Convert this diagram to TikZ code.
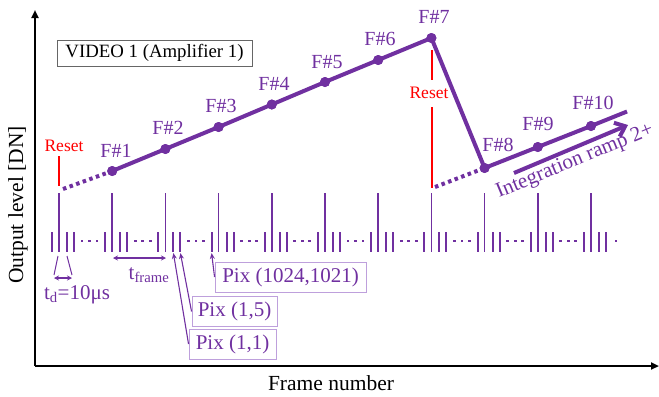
\documentclass[tikz,border=0pt]{standalone}
\usepackage{fontspec}
\setmainfont{Liberation Serif}
\usetikzlibrary{arrows.meta,calc}
\definecolor{vpurple}{RGB}{112,48,160}
\definecolor{lpurple}{RGB}{190,160,220}
\begin{document}
\begin{tikzpicture}[x=1bp,y=-1bp,
  pt/.style={circle,fill=vpurple,inner sep=0pt,minimum size=10bp},
  flabel/.style={text=vpurple,font=\fontsize{20bp}{24bp}\selectfont,inner sep=0pt},
  rlabel/.style={text=red,font=\fontsize{17.5bp}{21bp}\selectfont,inner sep=0pt},
  plabel/.style={text=vpurple,font=\fontsize{21bp}{25bp}\selectfont,inner sep=0pt},
  ramp/.style={vpurple,line width=4bp},
  dotramp/.style={vpurple,line width=4bp,dash pattern=on 3.5bp off 3.5bp},
  tallp/.style={vpurple,line width=1.6bp},
  shortp/.style={vpurple,line width=2bp},
  pixbox/.style={draw=lpurple,line width=0.9bp,text=vpurple,font=\fontsize{21bp}{25bp}\selectfont,inner xsep=0pt,inner ysep=0pt,minimum height=30bp},
  pixarrow/.style={vpurple,line width=1.1bp,-{Stealth[length=6bp,width=5bp]}},
  dimarrow/.style={vpurple,line width=1.4bp,{Stealth[length=5bp,width=5bp]}-{Stealth[length=5bp,width=5bp]}},
  resetl/.style={red,line width=2bp},
  axis/.style={black,line width=2.5bp,-{Triangle[length=8bp,width=7bp]}},
  axlabel/.style={font=\fontsize{21.5bp}{26bp}\selectfont,inner sep=0pt}
]
\useasboundingbox (0,0) rectangle (659,396);

% axes
\coordinate (o) at (35,366);
\coordinate (ytip) at (35,10);
\coordinate (xtip) at (659,366);
\draw[axis] (o) -- (ytip);
\draw[axis] (o) -- (xtip);
\node[axlabel,rotate=90] (ylab) at (18,205) {Output level [DN]};
\node[axlabel] (xlab) at (331,383) {Frame number};

% title box
\node[draw=black!60,line width=0.9bp,minimum width=195bp,minimum height=26bp,inner sep=0pt,
      font=\fontsize{18.8bp}{22bp}\selectfont] (title) at (154.5,53) {VIDEO 1 (Amplifier 1)};

% pulse train
\foreach \k in {0,...,10} {
  \pgfmathsetmacro\T{59+53.2*\k}
  \draw[tallp] (\T,193) -- (\T,252);
  \draw[shortp] ({\T-7},232) -- ({\T-7},252);
  \draw[shortp] ({\T+8},232) -- ({\T+8},252);
  \draw[shortp] ({\T+15},232) -- ({\T+15},252);
}
\foreach \k in {0,...,9} {
  \pgfmathsetmacro\T{59+53.2*\k}
  \foreach \d in {23,30.5,38} {
    \fill[vpurple] ({\T+\d-1.4},239.6) rectangle ({\T+\d+1.4},242.4);
  }
}
\fill[vpurple] (614.6,239.6) rectangle (617.4,242.4);

% data points
\node[pt] (p1) at (112.2,171) {};
\node[pt] (p2) at (165.4,149) {};
\node[pt] (p3) at (218.6,127) {};
\node[pt] (p4) at (271.8,104.5) {};
\node[pt] (p5) at (325,82) {};
\node[pt] (p6) at (378.2,60) {};
\node[pt] (p7) at (431.4,38) {};
\node[pt] (p8) at (484.6,168) {};
\node[pt] (p9) at (537.8,147) {};
\node[pt] (p10) at (591,126) {};
\coordinate (r1) at (63,189);
\coordinate (r2) at (435,187);
\coordinate (rend) at (627,111.5);

\draw[dotramp] (r1) -- (p1.center);
\draw[dotramp] (r2) -- (p8.center);
\draw[ramp,line join=round] (p1.center) -- (p2.center) -- (p3.center) -- (p4.center) -- (p5.center)
   -- (p6.center) -- (p7.center) -- (p8.center) -- (p9.center) -- (p10.center) -- (rend);
\foreach \i in {1,...,10} { \node[pt] at (p\i) {}; }

% frame labels
\node[flabel] (l1) at (116,151) {F\#1};
\node[flabel] (l2) at (168,128) {F\#2};
\node[flabel] (l3) at (221,106) {F\#3};
\node[flabel] (l4) at (274,84) {F\#4};
\node[flabel] (l5) at (327,62) {F\#5};
\node[flabel] (l6) at (380,39) {F\#6};
\node[flabel] (l7) at (434,17) {F\#7};
\node[flabel] (l8) at (498,145) {F\#8};
\node[flabel] (l9) at (538,124) {F\#9};
\node[flabel] (l10) at (593,103) {F\#10};

% resets
\node[rlabel] (rl1) at (64,146) {Reset};
\coordinate (rs1a) at (59,156);
\coordinate (rs1b) at (59,186);
\draw[resetl] (rs1a) -- (rs1b);
\node[rlabel] (rl2) at (429,93) {Reset};
\coordinate (rs2a) at (432,50);
\coordinate (rs2b) at (432,80);
\coordinate (rs2c) at (432,107);
\coordinate (rs2d) at (432,188);
\draw[resetl] (rs2a) -- (rs2b);
\draw[red,line width=1.5bp] (rs2c) -- (rs2d);

% integration ramp arrow
\coordinate (ia) at (514,173);
\coordinate (ib) at (628,125);
\draw[ramp,-{Straight Barb[length=9bp,width=15bp]}] (ia) -- (ib);
\node[plabel,rotate=22.5,anchor=base west] (irl) at (499,198) {Integration ramp 2+};

% t_frame
\coordinate (tf1) at (113,258);
\coordinate (tf2) at (166,258);
\draw[dimarrow] (tf1) -- (tf2);
\node[plabel] (tfl) at (149,275) {t\textsubscript{frame}};

% t_d
\coordinate (td1) at (54,278);
\coordinate (td2) at (72,278);
\coordinate (tda) at (58,256);
\coordinate (tdb) at (67,256);
\draw[vpurple,line width=1bp] (tda) -- ($(td1)+(0,-3)$);
\draw[vpurple,line width=1bp] (tdb) -- ($(td2)+(0,-3)$);
\draw[dimarrow,line width=1.2bp] (td1) -- (td2);
\node[plabel] (tdl) at (77,295) {t\textsubscript{d}=10μs};

% pixel boxes
\node[pixbox,minimum width=151bp] (b3) at (290.5,277) {Pix (1024,1021)};
\node[pixbox,minimum width=85bp] (b2) at (234.5,311.5) {Pix (1,5)};
\node[pixbox,minimum width=87bp] (b1) at (232.5,344) {Pix (1,1)};
\coordinate (a1) at (173.4,253);
\coordinate (a2) at (180.4,253);
\coordinate (a3) at (211.6,253);
\draw[pixarrow] (b1.west) -- (a1);
\draw[pixarrow] (b2.west) -- (a2);
\draw[pixarrow] (b3.west) -- (a3);
\end{tikzpicture}
\end{document}
